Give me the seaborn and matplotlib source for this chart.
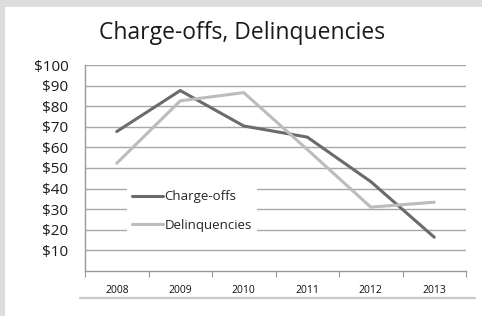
import matplotlib
matplotlib.use("Agg")
import matplotlib.pyplot as plt
from matplotlib.lines import Line2D
from matplotlib.patches import Rectangle
import seaborn as sns
import pandas as pd

years = ["2008", "2009", "2010", "2011", "2012", "2013"]
charge_offs = [67.7, 87.6, 70.4, 65.0, 43.4, 16.4]
delinquencies = [52.3, 82.6, 86.6, 59.0, 31.0, 33.4]
y_ticks = [10, 20, 30, 40, 50, 60, 70, 80, 90, 100]

df = pd.DataFrame({
    "pos": list(range(len(years))) * 2,
    "value": charge_offs + delinquencies,
    "series": ["Charge-offs"] * len(years) + ["Delinquencies"] * len(years),
})

sns.set_theme(style="white")
plt.rcParams["font.family"] = ["Open Sans", "DejaVu Sans"]

W, H = 482, 316
fig = plt.figure(figsize=(W / 100, H / 100), dpi=100, facecolor="white")

# gray frame bands (top and left)
fig.add_artist(Rectangle((0, 1 - 7 / H), 1, 7 / H, transform=fig.transFigure,
                         color="#dddddd", lw=0, zorder=0))
fig.add_artist(Rectangle((0, 0), 5 / W, 1, transform=fig.transFigure,
                         color="#dddddd", lw=0, zorder=0))

ax = fig.add_axes([85 / W, 45 / H, 381 / W, 206 / H])
ax.set_facecolor("none")

palette = {"Charge-offs": "#6b6b6b", "Delinquencies": "#bcbcbc"}
sns.lineplot(data=df, x="pos", y="value", hue="series", palette=palette,
             linewidth=2.2, ax=ax, legend=True)

ax.set_xlim(-0.5, len(years) - 0.5)
ax.set_ylim(0, 100)
ax.set_yticks(y_ticks)
ax.set_yticklabels([f"${v}" for v in y_ticks], fontsize=11, color="#1a1a1a")
ax.yaxis.grid(True, color="#a8a8a8", linewidth=1)
ax.set_axisbelow(True)
ax.tick_params(axis="y", length=0, pad=12)

ax.set_xticks(range(len(years)))
ax.set_xticklabels(years, fontsize=7.5, color="#111111", fontweight="medium")
ax.set_xticks([i - 0.5 for i in range(len(years) + 1)], minor=True)
ax.tick_params(axis="x", which="major", length=0, pad=10)
ax.tick_params(axis="x", which="minor", length=4, width=0.8, color="#999999",
               direction="out", bottom=True)
ax.set_xlabel("")
ax.set_ylabel("")

for s in ["top", "right"]:
    ax.spines[s].set_visible(False)
for s in ["left", "bottom"]:
    ax.spines[s].set_color("#999999")
    ax.spines[s].set_linewidth(1)

leg = ax.legend(loc="upper left", bbox_to_anchor=(127 / W, 1 - 185 / H),
                bbox_transform=fig.transFigure, fontsize=9.5, frameon=True,
                facecolor="white", edgecolor="white", framealpha=1,
                handlelength=2.3, handletextpad=0.15, labelspacing=1.2,
                borderpad=0.4, borderaxespad=0)
leg.get_frame().set_linewidth(0)

fig.text(242 / W, 1 - 33 / H, "Charge-offs, Delinquencies", ha="center",
         va="center", fontsize=16.5, color="#1a1a1a")

# decorative rule under the year labels
fig.add_artist(Line2D([80 / W, 475 / W], [1 - 298 / H, 1 - 298 / H],
                      transform=fig.transFigure, color="#c8c8c8", lw=1.6))

fig.savefig("out.png", dpi=100, facecolor="white")
